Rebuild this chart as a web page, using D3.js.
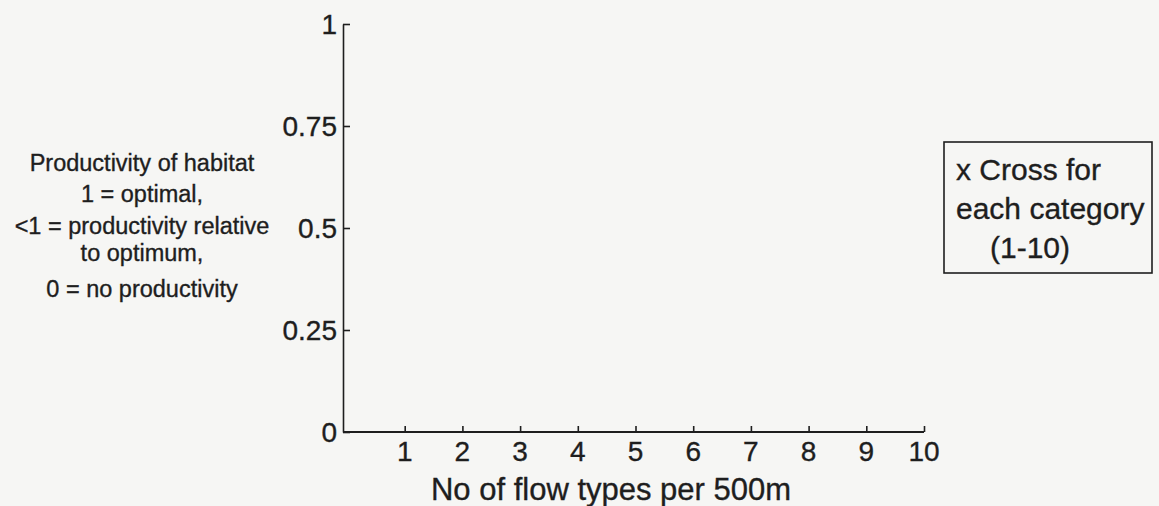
<!DOCTYPE html>
<html>
<head>
<meta charset="utf-8">
<script src="https://cdn.jsdelivr.net/npm/d3@7"></script>
<style>
  body { margin: 0; background: #f6f6f4; }
  svg { display: block; font-family: Arial, "Liberation Sans", sans-serif; }
  text { stroke: #1e1e1e; stroke-width: 0.35px; }
</style>
</head>
<body>
<svg id="chart" width="1159" height="506"></svg>
<script>
// axis values (the chart has no plotted marks yet)
let yTicks = [0, 0.25, 0.5, 0.75, 1];
let xTicks = [1, 2, 3, 4, 5, 6, 7, 8, 9, 10];
let xTitle = "No of flow types per 500m";
let yNote = ["Productivity of habitat", "1 = optimal,", "<1 = productivity relative", "to optimum,", "0 = no productivity"];
let legendLines = ["x Cross for", "each category", "(1-10)"];

let svg = d3.select("#chart");
let ink = "#1e1e1e";

let x = d3.scaleLinear().domain([0, 10]).range([347, 924]);
let y = d3.scaleLinear().domain([0, 1]).range([432, 24]);

// y axis, ticks pointing inward
let gy = svg.append("g").attr("transform", "translate(343,0)")
    .call(d3.axisRight(y).tickValues(yTicks).tickSize(7).tickSizeOuter(0).tickFormat(""));
gy.select(".domain").attr("stroke", ink).attr("stroke-width", 1.6);
gy.selectAll(".tick line").attr("stroke", ink).attr("stroke-width", 1.6);

svg.append("g").selectAll("text")
    .data(yTicks)
    .enter().append("text")
    .attr("x", 337)
    .attr("y", d => y(d))
    .attr("dy", "0.36em")
    .attr("text-anchor", "end")
    .attr("font-size", 28)
    .attr("fill", ink)
    .text(d => d);

// x axis, ticks pointing up
let gx = svg.append("g").attr("transform", "translate(0,432)")
    .call(d3.axisTop(x).tickValues(xTicks).tickSize(6).tickSizeOuter(0).tickFormat(""));
gx.select(".domain").remove();
gx.selectAll(".tick line").attr("stroke", ink).attr("stroke-width", 1.6);
gx.append("line")
    .attr("x1", 343).attr("x2", x(10))
    .attr("stroke", ink).attr("stroke-width", 1.8);

svg.append("g").selectAll("text")
    .data(xTicks)
    .enter().append("text")
    .attr("x", d => x(d))
    .attr("y", 461)
    .attr("text-anchor", "middle")
    .attr("font-size", 28)
    .attr("fill", ink)
    .text(d => d);

svg.append("text")
    .attr("x", 611).attr("y", 500)
    .attr("text-anchor", "middle")
    .attr("font-size", 31)
    .attr("fill", ink)
    .text(xTitle);

// note on the left
let noteY = [171, 202, 234, 261, 297];
svg.append("g").selectAll("text")
    .data(yNote)
    .enter().append("text")
    .attr("x", 142)
    .attr("y", (d, i) => noteY[i])
    .attr("text-anchor", "middle")
    .attr("font-size", 23.5)
    .attr("fill", ink)
    .text(d => d);

// legend box on the right
svg.append("rect")
    .attr("x", 944).attr("y", 142)
    .attr("width", 208).attr("height", 131)
    .attr("fill", "none")
    .attr("stroke", ink).attr("stroke-width", 1.6);

let legX = [956, 956, 990];
let legY = [180, 219, 258];
svg.append("g").selectAll("text")
    .data(legendLines)
    .enter().append("text")
    .attr("x", (d, i) => legX[i])
    .attr("y", (d, i) => legY[i])
    .attr("font-size", 30)
    .attr("fill", ink)
    .text(d => d);
</script>
</body>
</html>
